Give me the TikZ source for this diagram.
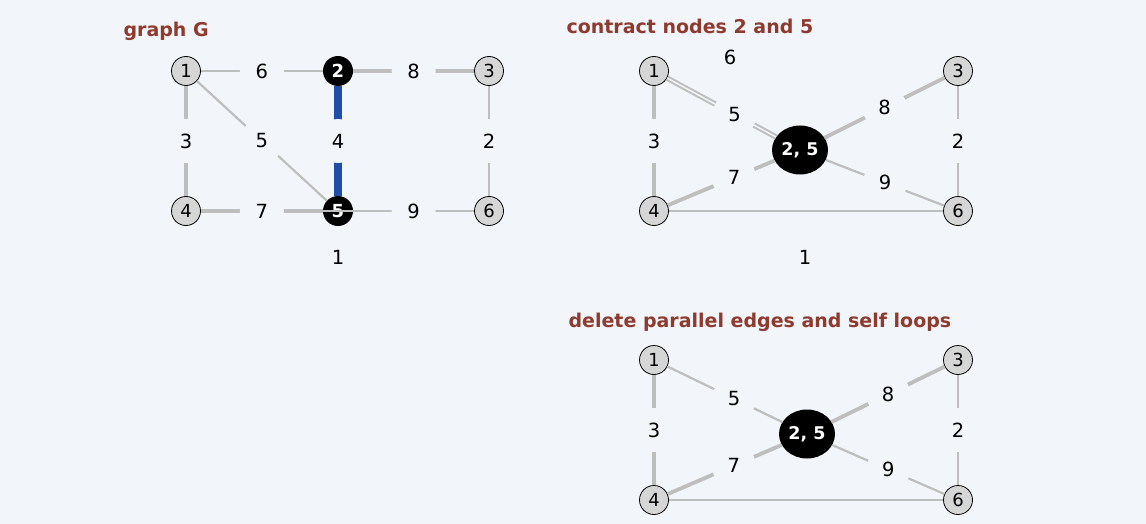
\documentclass[tikz,border=0pt]{standalone}
\usepackage{fontspec}
\setmainfont{DejaVu Sans}
\usetikzlibrary{shapes.geometric}
\definecolor{bgcol}{HTML}{F2F5F9}
\definecolor{edgecol}{HTML}{BEBEBE}
\definecolor{nodecol}{HTML}{D6D6D6}
\definecolor{titlecol}{HTML}{8E3A2E}
\definecolor{pickcol}{HTML}{1F4EA8}
\begin{document}
\begin{tikzpicture}[x=1pt,y=-1pt,
    vtx/.style={circle,draw=black,line width=0.8pt,fill=nodecol,minimum size=29pt,inner sep=0pt,font=\fontsize{18}{20}\selectfont},
    bvtx/.style={circle,fill=black,text=white,minimum size=30pt,inner sep=0pt,font=\bfseries\fontsize{18}{20}\selectfont},
    supervtx/.style={ellipse,fill=black,text=white,minimum width=56pt,minimum height=49pt,inner sep=0pt,font=\bfseries\fontsize{17.5}{20}\selectfont},
    wt/.style={circle,fill=bgcol,minimum size=44pt,inner sep=0pt,font=\fontsize{19.5}{22}\selectfont},
    lightedge/.style={draw=edgecol,line width=2.2pt},
    heavyedge/.style={draw=edgecol,line width=3.8pt},
    dbledge/.style={draw=edgecol,line width=2pt,double=bgcol,double distance=1.5pt},
    pickedge/.style={draw=pickcol,line width=8pt},
    heading/.style={anchor=base west,text=titlecol,font=\bfseries\fontsize{19}{22}\selectfont}]
  \fill [bgcol] (0,0) rectangle (1146,524);
  \useasboundingbox (0,0) rectangle (1146,524);

  % graph G
  \node [heading] (tg) at (120,37) {graph G};
  \node [vtx] (g1) at (186,71) {1};
  \node [bvtx] (g2) at (338,71) {2};
  \node [vtx] (g3) at (489,71) {3};
  \node [vtx] (g4) at (186,211) {4};
  \node [bvtx] (g5) at (338,211) {5};
  \node [vtx] (g6) at (489,211) {6};
  \draw [lightedge] (g4) -- (g6);
  \node [wt] (gw1) at (338,257) {1};
  \draw [lightedge] (g1) -- node [wt] {6} (g2);
  \draw [heavyedge] (g2) -- node [wt] {8} (g3);
  \draw [heavyedge] (g1) -- node [wt] {3} (g4);
  \draw [lightedge] (g1) -- node [wt] {5} (g5);
  \draw [pickedge] (g2) -- node [wt] {4} (g5);
  \draw [lightedge] (g3) -- node [wt] {2} (g6);
  \draw [heavyedge] (g4) -- node [wt] {7} (g5);
  \draw [lightedge] (g5) -- node [wt] {9} (g6);

  % contract nodes 2 and 5
  \node [heading] (tc) at (563,34) {contract nodes 2 and 5};
  \node [vtx] (c1) at (654,71) {1};
  \node [vtx] (c3) at (958,71) {3};
  \node [vtx] (c4) at (654,211) {4};
  \node [vtx] (c6) at (958,211) {6};
  \node [supervtx] (c25) at (800,150) {2, 5};
  \draw [lightedge] (c4) -- (c6);
  \node [wt] (cw1) at (805,257) {1};
  \node [wt] (cw6) at (730,57) {6};
  \draw [dbledge] (c1) -- node [wt,pos=0.62] {5} (c25);
  \draw [heavyedge] (c1) -- node [wt] {3} (c4);
  \draw [heavyedge] (c4) -- node [wt,pos=0.62] {7} (c25);
  \draw [heavyedge] (c25) -- node [wt] {8} (c3);
  \draw [lightedge] (c25) -- node [wt] {9} (c6);
  \draw [lightedge] (c3) -- node [wt] {2} (c6);

  % delete parallel edges and self loops
  \node [heading] (td) at (565,327) {delete parallel edges and self loops};
  \node [vtx] (d1) at (654,360) {1};
  \node [vtx] (d3) at (958,360) {3};
  \node [vtx] (d4) at (654,500) {4};
  \node [vtx] (d6) at (958,500) {6};
  \node [supervtx] (d25) at (807,434) {2, 5};
  \draw [lightedge] (d4) -- (d6);
  \node [wt] (dw1) at (805,546) {1};
  \draw [lightedge] (d1) -- node [wt,pos=0.58] {5} (d25);
  \draw [heavyedge] (d1) -- node [wt] {3} (d4);
  \draw [heavyedge] (d4) -- node [wt,pos=0.58] {7} (d25);
  \draw [heavyedge] (d25) -- node [wt] {8} (d3);
  \draw [lightedge] (d25) -- node [wt] {9} (d6);
  \draw [lightedge] (d3) -- node [wt] {2} (d6);
\end{tikzpicture}
\end{document}
